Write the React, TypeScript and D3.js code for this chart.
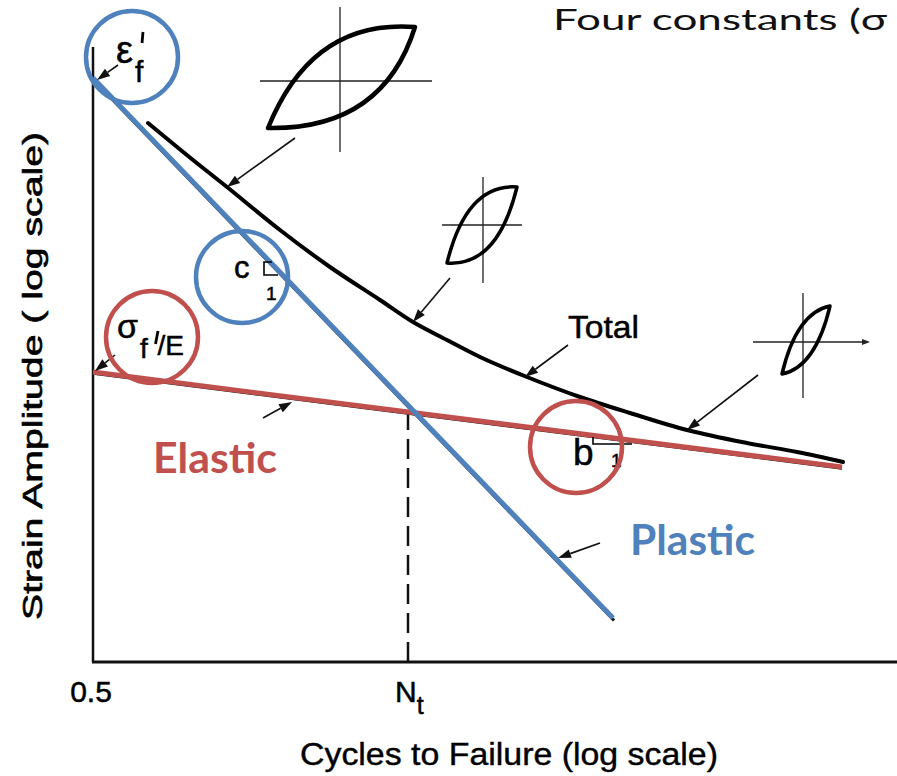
import * as d3 from 'd3';

const WIDTH = 897;
const HEIGHT = 776;

// abstract log units: x = log cycles (0 at N = 0.5), y = log strain amplitude
const plasticX = [0, 5.2];
const plasticY = [5.84, 0.44];
const elasticX = [0, 7.49];
const elasticY = [2.9, 1.95];
const totalX = [0.55, 1.0, 1.34, 1.87, 2.37, 2.87, 3.2, 3.54, 3.87, 4.34, 4.87, 5.37, 5.94, 6.54, 7.04, 7.5];
const totalY = [5.39, 5.02, 4.75, 4.32, 3.95, 3.62, 3.4, 3.22, 3.05, 2.85, 2.65, 2.49, 2.32, 2.19, 2.1, 2.0];
const transitionX = 3.15;
const transitionY = 2.52;
const xTickLabels = ['0.5', 'N'];

// hysteresis loop sketches: lower-left / upper-right corner, axis centre and extents
const loops = [
  { ll: [1.75, 5.34], ur: [3.22, 6.35], c: [2.47, 5.81], hx: [1.67, 3.39], vy: [5.1, 6.55], up: [0.3, 0.08], lo: [0.78, 0.02], w: 4.5 },
  { ll: [3.54, 3.99], ur: [4.24, 4.75], c: [3.9, 4.37], hx: [3.49, 4.29], vy: [3.79, 4.85], up: [0.28, 0.05], lo: [0.72, 0.05], w: 3.5 },
  { ll: [6.89, 2.88], ur: [7.37, 3.56], c: [7.1, 3.2], hx: [6.6, 7.75], vy: [2.64, 3.69], up: [0.3, -0.1], lo: [0.7, -0.1], w: 3.5 },
];

const arrows = [
  [2.02, 5.24, 1.34, 4.75],
  [3.57, 3.84, 3.2, 3.4],
  [4.75, 3.17, 4.32, 2.85],
  [6.65, 2.87, 5.94, 2.32],
  [1.7, 2.44, 1.99, 2.6],
  [5.07, 1.19, 4.65, 1.04],
  [0.25, 5.97, 0.04, 5.82],
  [0.22, 3.07, 0.02, 2.91],
];

const BLUE = '#4f81bd';
const RED = '#c0504d';
const circles = [
  { x: 0.39, y: 6.05, color: BLUE },
  { x: 1.49, y: 3.85, color: BLUE },
  { x: 0.59, y: 3.25, color: RED },
  { x: 4.83, y: 2.15, color: RED },
];

const FIG_FONT = "'Liberation Sans', Arial, sans-serif";
const NARROW_FONT = "'Liberation Sans Narrow', 'Liberation Sans', Arial, sans-serif";
const SLIDE_FONT = "Lato, 'Open Sans', sans-serif";

export default function App() {
  const xScale = d3.scaleLinear().domain([0, 8]).range([93, 893]);
  const yScale = d3.scaleLinear().domain([0, 6]).range([662, 62]);

  const line = d3
    .line<[number, number]>()
    .x(d => xScale(d[0]))
    .y(d => yScale(d[1]));
  const curve = d3
    .line<[number, number]>()
    .x(d => xScale(d[0]))
    .y(d => yScale(d[1]))
    .curve(d3.curveCatmullRom);

  const plastic = plasticX.map((x, i) => [x, plasticY[i]] as [number, number]);
  const elastic = elasticX.map((x, i) => [x, elasticY[i]] as [number, number]);
  const total = totalX.map((x, i) => [x, totalY[i]] as [number, number]);

  const arrowShape = (a: number[], i: number) => {
    const x1 = xScale(a[0]), y1 = yScale(a[1]);
    const x2 = xScale(a[2]), y2 = yScale(a[3]);
    const len = Math.hypot(x2 - x1, y2 - y1);
    const ux = (x2 - x1) / len, uy = (y2 - y1) / len;
    const head = 13, half = 4.5;
    const bx = x2 - ux * head, by = y2 - uy * head;
    return (
      <g key={`arrow-${i}`}>
        <line x1={x1} y1={y1} x2={bx} y2={by} stroke="#111" strokeWidth={1.6} />
        <polygon
          points={`${x2},${y2} ${bx - uy * half},${by + ux * half} ${bx + uy * half},${by - ux * half}`}
          fill="#111"
        />
      </g>
    );
  };

  const loopShape = (l: typeof loops[number], i: number) => {
    const llx = xScale(l.ll[0]), lly = yScale(l.ll[1]);
    const urx = xScale(l.ur[0]), ury = yScale(l.ur[1]);
    const dx = urx - llx, dy = lly - ury;
    const cu = [llx + l.up[0] * dx, ury - l.up[1] * dy];
    const cl = [llx + l.lo[0] * dx, lly + l.lo[1] * dy];
    const path = `M${llx},${lly} Q${cu[0]},${cu[1]} ${urx},${ury} Q${cl[0]},${cl[1]} ${llx},${lly} Z`;
    return (
      <g key={`loop-${i}`}>
        <line x1={xScale(l.hx[0])} x2={xScale(l.hx[1])} y1={yScale(l.c[1])} y2={yScale(l.c[1])} stroke="#222" strokeWidth={1.3} />
        <line x1={xScale(l.c[0])} x2={xScale(l.c[0])} y1={yScale(l.vy[0])} y2={yScale(l.vy[1])} stroke="#222" strokeWidth={1.3} />
        {i === 2 && (
          <polygon
            points={`${xScale(l.hx[1]) + 2},${yScale(l.c[1])} ${xScale(l.hx[1]) - 6},${yScale(l.c[1]) - 3} ${xScale(l.hx[1]) - 6},${yScale(l.c[1]) + 3}`}
            fill="#222"
          />
        )}
        <path d={path} fill="none" stroke="#000" strokeWidth={l.w} strokeLinejoin="round" />
      </g>
    );
  };

  const t = (x: number, y: number) => ({ x: xScale(x), y: yScale(y) });
  const ink = { fill: '#000', stroke: '#000', strokeWidth: 0.5 };

  return (
    <svg
      width={WIDTH}
      height={HEIGHT}
      style={{ position: 'absolute', left: 0, top: 0, background: '#fff' }}
    >
      <rect width={WIDTH} height={HEIGHT} fill="#fff" />

      {/* axes */}
      <line x1={xScale(0)} x2={xScale(0)} y1={yScale(0)} y2={yScale(6.15)} stroke="#111" strokeWidth={2.5} />
      <line x1={xScale(0) - 1} x2={WIDTH} y1={yScale(0)} y2={yScale(0)} stroke="#111" strokeWidth={3} />

      {/* transition life marker */}
      <line
        x1={xScale(transitionX)}
        x2={xScale(transitionX)}
        y1={yScale(transitionY)}
        y2={yScale(0)}
        stroke="#111"
        strokeWidth={2.5}
        strokeDasharray="20 9"
      />

      {/* tick labels */}
      <text x={xScale(0) - 2} y={702} fontFamily={NARROW_FONT} fontSize={30} textAnchor="middle" {...ink}>
        {xTickLabels[0]}
      </text>
      <text x={xScale(transitionX) - 13} y={702} fontFamily={NARROW_FONT} fontSize={30} {...ink}>
        {xTickLabels[1]}
        <tspan dy={12} fontSize={25}>t</tspan>
      </text>

      {/* axis titles */}
      <text x={509} y={765} fontFamily={NARROW_FONT} fontSize={31} textAnchor="middle" textLength={418} lengthAdjust="spacingAndGlyphs" {...ink} strokeWidth={0.4}>
        Cycles to Failure (log scale)
      </text>
      <text
        transform="translate(42,376) rotate(-90)"
        fontFamily={FIG_FONT}
        fontSize={27}
        textAnchor="middle"
        textLength={488}
        lengthAdjust="spacingAndGlyphs"
        {...ink}
        strokeWidth={0.6}
      >
        Strain Amplitude ( log scale)
      </text>

      {/* under-drawn original black lines */}
      <path d={line(plastic) ?? ''} transform="translate(1,2.5)" fill="none" stroke="#111" strokeWidth={3} />
      <path d={line(elastic) ?? ''} transform="translate(0,1.5)" fill="none" stroke="#111" strokeWidth={2.5} />

      {/* total curve */}
      <path d={curve(total) ?? ''} fill="none" stroke="#000" strokeWidth={4} strokeLinecap="round" />

      {/* elastic and plastic lines */}
      <path d={line(elastic) ?? ''} fill="none" stroke={RED} strokeWidth={5} />
      <path d={line(plastic) ?? ''} fill="none" stroke={BLUE} strokeWidth={5} />

      {loops.map(loopShape)}
      {arrows.map(arrowShape)}

      {/* symbols */}
      <text {...t(0.23, 5.99)} fontFamily={FIG_FONT} fontSize={38} {...ink}>ε</text>
      <text {...t(0.42, 5.8)} fontFamily={FIG_FONT} fontSize={30} {...ink}>f</text>
      <line x1={xScale(0.5)} y1={yScale(6.3)} x2={xScale(0.49)} y2={yScale(6.19)} stroke="#000" strokeWidth={2.8} />

      <text {...t(0.24, 3.24)} fontFamily={FIG_FONT} fontSize={34} {...ink}>σ</text>
      <text {...t(0.47, 3.04)} fontFamily={FIG_FONT} fontSize={28} {...ink}>f</text>
      <line x1={xScale(0.65)} y1={yScale(3.31)} x2={xScale(0.625)} y2={yScale(3.18)} stroke="#000" strokeWidth={2.8} />
      <text {...t(0.645, 3.07)} fontFamily={FIG_FONT} fontSize={28} {...ink}>/E</text>

      <text {...t(1.41, 3.84)} fontFamily={FIG_FONT} fontSize={31} {...ink}>c</text>
      <path
        d={`M${xScale(1.79)},${yScale(4.0)} L${xScale(1.71)},${yScale(4.0)} L${xScale(1.71)},${yScale(3.87)} L${xScale(1.85)},${yScale(3.87)}`}
        fill="none"
        stroke="#000"
        strokeWidth={1.6}
      />
      <text {...t(1.73, 3.62)} fontFamily={FIG_FONT} fontSize={19} {...ink}>1</text>

      <text {...t(4.8, 1.97)} fontFamily={FIG_FONT} fontSize={37} {...ink}>b</text>
      <path
        d={`M${xScale(5.0)},${yScale(2.25)} L${xScale(5.0)},${yScale(2.18)} L${xScale(5.39)},${yScale(2.18)}`}
        fill="none"
        stroke="#000"
        strokeWidth={1.6}
      />
      <text {...t(5.18, 1.95)} fontFamily={FIG_FONT} fontSize={19} {...ink}>1</text>

      <text {...t(4.75, 3.24)} fontFamily={FIG_FONT} fontSize={32} textLength={71} lengthAdjust="spacingAndGlyphs" {...ink}>Total</text>

      {/* highlight circles */}
      {circles.map((c, i) => (
        <circle key={`circ-${i}`} cx={xScale(c.x)} cy={yScale(c.y)} r={46} fill="none" stroke={c.color} strokeWidth={4.5} />
      ))}

      {/* slide annotations */}
      <text {...t(0.6, 1.89)} fontFamily={SLIDE_FONT} fontWeight="bold" fontSize={42} textLength={124} lengthAdjust="spacingAndGlyphs" fill={RED}>
        Elastic
      </text>
      <text {...t(5.37, 1.07)} fontFamily={SLIDE_FONT} fontWeight="bold" fontSize={42} textLength={125} lengthAdjust="spacingAndGlyphs" fill={BLUE}>
        Plastic
      </text>
      <text x={553} y={30} fontFamily={SLIDE_FONT} fontSize={29} textLength={334} lengthAdjust="spacingAndGlyphs" fill="#111">
        Four constants (σ
      </text>
    </svg>
  );
}
